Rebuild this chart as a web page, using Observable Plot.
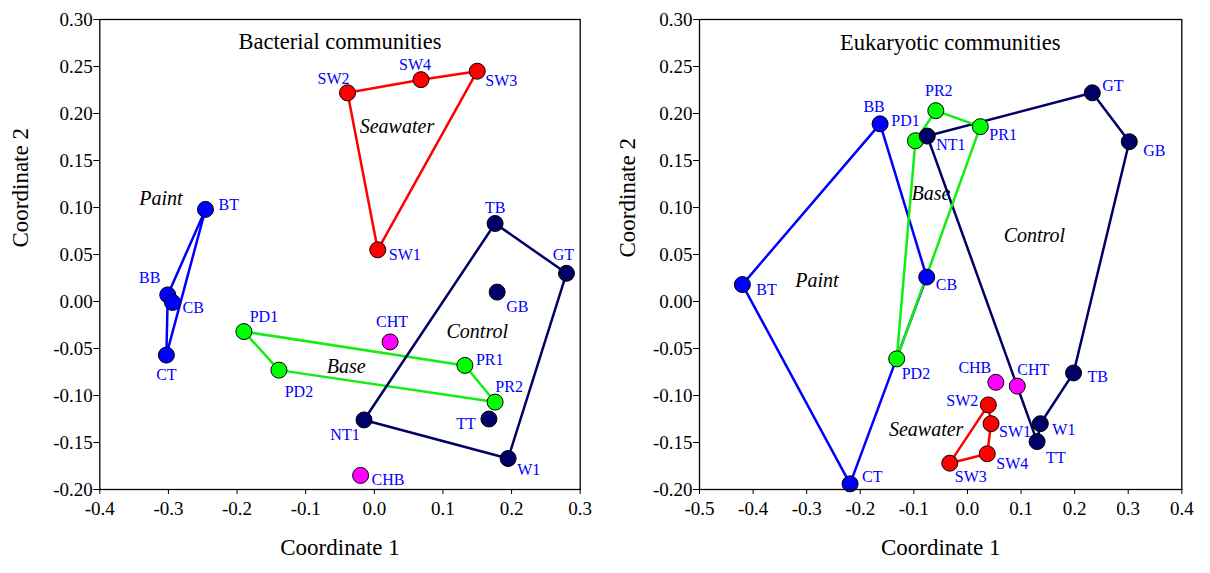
<!DOCTYPE html>
<html>
<head>
<meta charset="utf-8">
<script src="https://cdn.jsdelivr.net/npm/d3@7"></script>
<script src="https://cdn.jsdelivr.net/npm/@observablehq/plot@0.6"></script>
<style>
  html, body { margin: 0; padding: 0; background: #fff; overflow: hidden; }
  #wrap { display: flex; width: 1210px; height: 573px; }
  #wrap svg { display: block; }
  #wrap svg, #wrap svg text { font-family: "Liberation Serif", "Times New Roman", serif !important; }
</style>
</head>
<body>
<div id="wrap"></div>
<script>
// ---------- Data ----------
const sampleNames = ["SW1","SW2","SW3","SW4","BT","BB","CB","CT","PD1","PD2","PR1","PR2","TB","GT","GB","TT","NT1","W1","CHT","CHB"];
const sampleGroups = ["Seawater","Seawater","Seawater","Seawater","Paint","Paint","Paint","Paint","Base","Base","Base","Base","Control","Control","Control","Control","Control","Control","Chem","Chem"];

// Bacterial communities
const bactX = [0.005,-0.039,0.150,0.068,-0.246,-0.301,-0.294,-0.303,-0.190,-0.139,0.132,0.176,0.176,0.280,0.179,0.167,-0.015,0.195,0.023,-0.020];
const bactY = [0.055,0.222,0.245,0.236,0.098,0.007,-0.001,-0.057,-0.032,-0.073,-0.068,-0.107,0.083,0.030,0.010,-0.125,-0.126,-0.167,-0.043,-0.185];
const bactHulls = [
  {group: "Seawater", order: ["SW2","SW4","SW3","SW1","SW2"]},
  {group: "Paint", order: ["BT","BB","CT","BT"]},
  {group: "Base", order: ["PD1","PR1","PR2","PD2","PD1"]},
  {group: "Control", order: ["TB","GT","W1","NT1","TB"]}
];
const bactGroupLabels = ["Seawater","Paint","Control","Base"];
const bactGroupLabelX = [0.033,-0.311,0.150,-0.041];
const bactGroupLabelY = [0.186,0.109,-0.032,-0.069];

// Eukaryotic communities
const eukX = [0.044,0.039,-0.033,0.037,-0.420,-0.163,-0.076,-0.219,-0.097,-0.132,0.024,-0.059,0.198,0.233,0.302,0.130,-0.075,0.136,0.093,0.053];
const eukY = [-0.130,-0.110,-0.172,-0.162,0.018,0.189,0.026,-0.194,0.171,-0.061,0.186,0.203,-0.076,0.222,0.170,-0.149,0.176,-0.130,-0.090,-0.086];
const eukHulls = [
  {group: "Paint", order: ["BB","CB","CT","BT","BB"]},
  {group: "Control", order: ["NT1","GT","GB","TB","W1","TT","NT1"]},
  {group: "Base", order: ["PD1","PR2","PR1","PD2","PD1"]},
  {group: "Seawater", order: ["SW2","SW1","SW4","SW3","SW2"]}
];
const eukGroupLabels = ["Base","Control","Paint","Seawater"];
const eukGroupLabelX = [-0.068,0.125,-0.281,-0.077];
const eukGroupLabelY = [0.115,0.070,0.022,-0.136];

const bactTitle = "Bacterial communities";
const eukTitle = "Eukaryotic communities";
const xLabel = "Coordinate 1";
const yLabel = "Coordinate 2";

const bactXTicks = [-0.4,-0.3,-0.2,-0.1,0.0,0.1,0.2,0.3];
const eukXTicks = [-0.5,-0.4,-0.3,-0.2,-0.1,0.0,0.1,0.2,0.3,0.4];
const yTicks = [-0.20,-0.15,-0.10,-0.05,0.00,0.05,0.10,0.15,0.20,0.25,0.30];

// ---------- Styles / layout ----------
const groupColors = {Seawater: "#ff0000", Paint: "#0000ff", Base: "#00ff00", Control: "#000066", Chem: "#ff00ff"};
const lineColors = {Seawater: "#ff0000", Paint: "#0000ff", Base: "#11ee11", Control: "#000066"};
const FONT = "Liberation Serif";

// label placement: [dx, dy, anchor]
const bactLabelPos = {
  SW2: [-14,-14,"middle"], SW4: [-6,-15,"middle"], SW3: [8,10,"start"], SW1: [11,5,"start"],
  BT: [13,-5,"start"], TB: [0,-16,"middle"], GT: [-3,-18,"middle"], GB: [9,15,"start"],
  BB: [-18,-17,"middle"], CB: [10,5,"start"], CT: [0,20,"middle"], PD1: [20,-15,"middle"],
  PD2: [20,22,"middle"], CHT: [2,-20,"middle"], PR1: [11,-6,"start"], PR2: [14,-15,"middle"],
  TT: [-23,5,"middle"], NT1: [-19,15,"middle"], W1: [9,11,"start"], CHB: [11,4,"start"]
};
const eukLabelPos = {
  BB: [-6,-17,"middle"], PD1: [-10,-20,"middle"], PR2: [3,-20,"middle"], PR1: [9,8,"start"],
  NT1: [9,9,"start"], GT: [10,-7,"start"], GB: [14,9,"start"], CB: [9,8,"start"],
  BT: [14,5,"start"], PD2: [5,15,"start"], CT: [12,-7,"start"], CHB: [-21,-14,"middle"],
  CHT: [16,-16,"middle"], TB: [14,4,"start"], SW2: [-10,-4,"end"], SW1: [8,8,"start"],
  W1: [12,6,"start"], TT: [9,16,"start"], SW4: [9,10,"start"], SW3: [21,14,"middle"]
};

function panel(cfg) {
  const data = sampleNames.map((n, i) => ({name: n, group: sampleGroups[i], x: cfg.xs[i], y: cfg.ys[i]}));
  const byName = Object.fromEntries(data.map(d => [d.name, d]));
  const marks = [];
  for (const h of cfg.hulls) {
    marks.push(Plot.line(h.order.map(n => byName[n]), {x: "x", y: "y", stroke: lineColors[h.group], strokeWidth: 2.5}));
  }
  marks.push(Plot.dot(data, {x: "x", y: "y", r: 8, fill: d => groupColors[d.group], stroke: "black", strokeWidth: 1}));
  for (const d of data) {
    const [dx, dy, anchor] = cfg.labelPos[d.name];
    marks.push(Plot.text([d], {x: "x", y: "y", text: "name", dx, dy, textAnchor: anchor, fill: "#0000ff", fontSize: 16, fontFamily: FONT}));
  }
  const gl = cfg.groupLabels.map((t, i) => ({t, x: cfg.glx[i], y: cfg.gly[i]}));
  marks.push(Plot.text(gl, {x: "x", y: "y", text: "t", fontStyle: "italic", fontSize: 20, fill: "black", fontFamily: FONT}));
  marks.push(Plot.text([{t: cfg.title, x: cfg.titleX, y: cfg.titleY}], {x: "x", y: "y", text: "t", fontSize: 22.5, fill: "black", fontFamily: FONT}));
  marks.push(Plot.text([xLabel], {frameAnchor: "bottom", dy: 65, fontSize: 23, fill: "black", fontFamily: FONT}));
  marks.push(Plot.text([yLabel], {frameAnchor: "left", dx: cfg.yLabelDx, dy: cfg.yLabelDy, rotate: -90, fontSize: 23, fill: "black", fontFamily: FONT}));
  marks.push(Plot.frame({stroke: "black", strokeWidth: 1.3}));
  marks.push(Plot.axisX({ticks: cfg.xTicks, tickFormat: d => d.toFixed(1), tickSize: 5, tickPadding: 7, label: null, fontSize: 19, fontFamily: FONT}));
  marks.push(Plot.axisY({ticks: yTicks, tickFormat: d => d.toFixed(2), tickSize: 6, tickPadding: 1, label: null, fontSize: 19, fontFamily: FONT}));
  return Plot.plot({
    width: 605,
    height: 573,
    marginLeft: cfg.ml,
    marginRight: cfg.mr,
    marginTop: 19,
    marginBottom: 84,
    x: {domain: cfg.xDomain},
    y: {domain: [-0.2, 0.3]},
    style: {fontFamily: FONT, fontSize: "19px", color: "black", background: "white", overflow: "visible"},
    marks
  });
}

const wrap = document.getElementById("wrap");
wrap.appendChild(panel({
  xs: bactX, ys: bactY, hulls: bactHulls, labelPos: bactLabelPos,
  groupLabels: bactGroupLabels, glx: bactGroupLabelX, gly: bactGroupLabelY,
  title: bactTitle, titleX: -0.050, titleY: 0.276,
  xTicks: bactXTicks, xDomain: [-0.4, 0.3], ml: 99.3, mr: 25.3,
  yLabelDx: -79, yLabelDy: -7
}));
wrap.appendChild(panel({
  xs: eukX, ys: eukY, hulls: eukHulls, labelPos: eukLabelPos,
  groupLabels: eukGroupLabels, glx: eukGroupLabelX, gly: eukGroupLabelY,
  title: eukTitle, titleX: -0.032, titleY: 0.275,
  xTicks: eukXTicks, xDomain: [-0.5, 0.4], ml: 94, mr: 28.7,
  yLabelDx: -72, yLabelDy: 3
}));
</script>
</body>
</html>
